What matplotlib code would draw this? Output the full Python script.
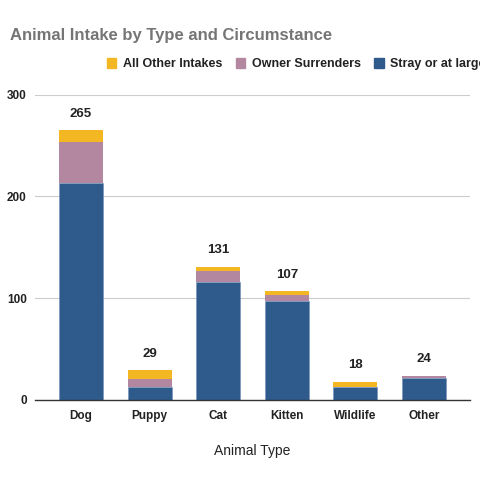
import matplotlib
matplotlib.use("Agg")
import matplotlib.pyplot as plt
import numpy as np
from matplotlib.patches import Patch

plt.rcParams["font.family"] = ["Liberation Sans", "DejaVu Sans"]

categories = ["Dog", "Puppy", "Cat", "Kitten", "Wildlife", "Other"]
stray = [213, 13, 116, 97, 13, 22]
owner = [41, 8, 11, 6, 0, 2]
other_intakes = [11, 8, 4, 4, 5, 0]
totals = [265, 29, 131, 107, 18, 24]

BLUE = "#2E5B8C"
MAUVE = "#B3879F"
YELLOW = "#F3B724"

fig = plt.figure(figsize=(4.8, 4.8), dpi=100)
ax = fig.add_axes([0.073, 0.1667, 0.906, 0.636])

x = np.arange(len(categories))
w = 0.64
stray_a = np.array(stray)
owner_a = np.array(owner)
ax.bar(x, stray_a, w, color=BLUE, edgecolor="#6f8fb5", linewidth=0.4, zorder=3)
ax.bar(x, owner_a, w, bottom=stray_a, color=MAUVE, linewidth=0, zorder=3)
ax.bar(x, other_intakes, w, bottom=stray_a + owner_a, color=YELLOW, linewidth=0, zorder=3)

for xi, t in zip(x, totals):
    ax.annotate(str(t), (xi, t), xytext=(0, 7.5), textcoords="offset points",
                ha="center", va="bottom", fontsize=9.5, fontweight="bold", color="#222222")

ax.set_xlim(-0.67, 5.67)
ax.set_ylim(0, 300)
ax.set_yticks([0, 100, 200, 300])
ax.set_xticks(x)
ax.set_xticklabels(categories, fontsize=8.5, fontweight="bold", color="#222222")
for lbl in ax.get_yticklabels():
    lbl.set_fontweight("bold")
    lbl.set_fontsize(8.5)
    lbl.set_color("#222222")
ax.tick_params(axis="both", length=0)
ax.tick_params(axis="y", pad=6)
ax.tick_params(axis="x", pad=7)
ax.grid(axis="y", color="#cccccc", linewidth=0.8, zorder=0)
for side in ["top", "right", "left"]:
    ax.spines[side].set_visible(False)
ax.spines["bottom"].set_color("#333333")
ax.spines["bottom"].set_linewidth(1.0)
ax.spines["bottom"].set_zorder(4)

ax.set_xlabel("Animal Type", fontsize=10, color="#222222", labelpad=16)

fig.text(0.021, 0.927, "Animal Intake by Type and Circumstance", fontsize=12,
         fontweight="bold", color="#757575", va="center", ha="left")

handles = [Patch(color=YELLOW), Patch(color=MAUVE), Patch(color=BLUE)]
labels = ["All Other Intakes", "Owner Surrenders", "Stray or at large"]
leg = fig.legend(handles, labels, ncol=3, loc="center left",
                 bbox_to_anchor=(0.222, 0.866), frameon=False,
                 handlelength=0.75, handleheight=0.75, handletextpad=0.55,
                 columnspacing=1.07, borderaxespad=0, borderpad=0,
                 prop={"size": 9, "weight": "bold"})
for t in leg.get_texts():
    t.set_color("#222222")

fig.savefig("out.png", dpi=100, facecolor="white")
